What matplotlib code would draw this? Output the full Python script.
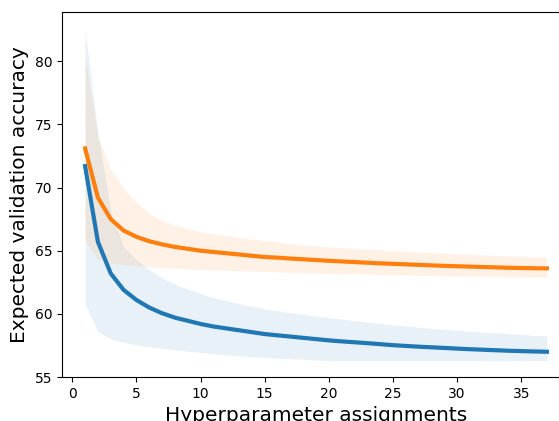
import numpy as np
import matplotlib
matplotlib.use("Agg")
import matplotlib.pyplot as plt

# hyperparameter assignments
assignments = list(range(1, 38))

# expected validation accuracy, blue model
blue_mean = [71.7, 65.7, 63.2, 61.9, 61.1, 60.5, 60.05, 59.7, 59.45, 59.2,
             59.0, 58.85, 58.7, 58.55, 58.4, 58.3, 58.2, 58.1, 58.0, 57.9,
             57.82, 57.75, 57.68, 57.6, 57.52, 57.46, 57.4, 57.35, 57.3, 57.25,
             57.2, 57.16, 57.12, 57.08, 57.05, 57.02, 57.0]
blue_upper = [82.45, 74.3, 68.2, 65.3, 64.3, 63.5, 62.85, 62.35, 61.95, 61.6,
              61.3, 61.05, 60.8, 60.6, 60.4, 60.25, 60.1, 59.95, 59.82, 59.7,
              59.58, 59.46, 59.35, 59.24, 59.13, 59.03, 58.94, 58.85, 58.77, 58.69,
              58.62, 58.55, 58.48, 58.42, 58.36, 58.3, 58.25]
blue_lower = [60.8, 58.6, 58.0, 57.75, 57.55, 57.4, 57.27, 57.15, 57.05, 56.95,
              56.85, 56.75, 56.68, 56.6, 56.55, 56.5, 56.45, 56.4, 56.35, 56.3,
              56.3, 56.3, 56.3, 56.3, 56.3, 56.3, 56.3, 56.3, 56.3, 56.3,
              56.3, 56.3, 56.3, 56.3, 56.3, 56.3, 56.3]

# expected validation accuracy, orange model
orange_mean = [73.1, 69.2, 67.5, 66.6, 66.1, 65.75, 65.5, 65.3, 65.15, 65.0,
               64.9, 64.8, 64.7, 64.6, 64.5, 64.45, 64.38, 64.32, 64.26, 64.2,
               64.15, 64.1, 64.05, 64.0, 63.96, 63.92, 63.88, 63.84, 63.8, 63.77,
               63.74, 63.71, 63.68, 63.65, 63.63, 63.61, 63.6]
orange_upper = [80.3, 74.0, 71.5, 69.9, 68.8, 67.95, 67.4, 67.0, 66.75, 66.5,
                66.35, 66.2, 66.05, 65.92, 65.8, 65.68, 65.56, 65.45, 65.38, 65.3,
                65.24, 65.18, 65.12, 65.06, 65.0, 64.95, 64.9, 64.85, 64.8, 64.75,
                64.71, 64.67, 64.63, 64.59, 64.55, 64.52, 64.5]
orange_lower = [65.8, 64.3, 64.0, 63.9, 63.8, 63.72, 63.66, 63.6, 63.55, 63.5,
                63.47, 63.44, 63.41, 63.38, 63.35, 63.32, 63.29, 63.26, 63.23, 63.2,
                63.18, 63.16, 63.14, 63.12, 63.1, 63.08, 63.06, 63.04, 63.02, 63.0,
                62.99, 62.98, 62.96, 62.94, 62.92, 62.91, 62.9]

fig = plt.figure(figsize=(5.59, 4.21), dpi=100)
# axes run past the right edge of the figure, like the cropped original
ax = fig.add_axes([62 / 559, 44 / 421, 508 / 559, 365 / 421])

ax.fill_between(assignments, blue_lower, blue_upper, color="tab:blue", alpha=0.1, linewidth=0)
ax.fill_between(assignments, orange_lower, orange_upper, color="tab:orange", alpha=0.1, linewidth=0)
ax.plot(assignments, blue_mean, color="tab:blue", linewidth=3)
ax.plot(assignments, orange_mean, color="tab:orange", linewidth=3)

ax.set_xlim(-0.8, 38.8)
ax.set_ylim(55, 83.9)
ax.set_xticks([0, 5, 10, 15, 20, 25, 30, 35])
ax.set_yticks([55, 60, 65, 70, 75, 80])
ax.set_xlabel("Hyperparameter assignments", fontsize=14.5)
ax.set_ylabel("Expected validation accuracy", fontsize=14.5)

fig.savefig("out.png", dpi=100)
